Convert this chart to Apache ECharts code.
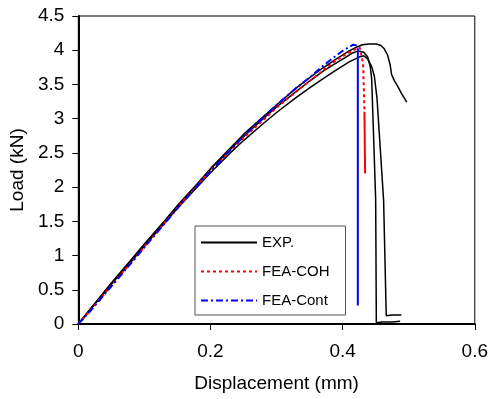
<!DOCTYPE html>
<html><head><meta charset="utf-8">
<script src="https://cdn.jsdelivr.net/npm/echarts@6/dist/echarts.min.js"></script>
<style>html,body{margin:0;padding:0;background:#fff}#c{width:491px;height:399px}</style>
</head><body><div id="c"></div>
<script>
// Tick labels
const xTicks = [0, 0.2, 0.4, 0.6];
const yTicks = [0, 0.5, 1, 1.5, 2, 2.5, 3, 3.5, 4, 4.5];
const seriesNames = ['EXP.', 'FEA-COH', 'FEA-Cont'];

// EXP. specimen 1 (highest, long tail)
const expAx = [0, 0.01, 0.03, 0.05, 0.08, 0.1, 0.13, 0.15, 0.18, 0.2, 0.23, 0.25, 0.28, 0.3, 0.33, 0.35, 0.37, 0.39, 0.41, 0.42, 0.43, 0.44, 0.451, 0.458, 0.463, 0.468, 0.472, 0.474, 0.478, 0.483, 0.489, 0.497];
const expAy = [0, 0.12, 0.36, 0.6, 0.94, 1.17, 1.5, 1.73, 2.05, 2.27, 2.57, 2.77, 3.03, 3.2, 3.45, 3.6, 3.74, 3.87, 3.99, 4.04, 4.08, 4.09, 4.09, 4.07, 4.02, 3.93, 3.78, 3.65, 3.56, 3.48, 3.37, 3.24];
// EXP. specimen 2
const expBx = [0, 0.02, 0.05, 0.08, 0.1, 0.13, 0.15, 0.18, 0.2, 0.23, 0.25, 0.28, 0.3, 0.33, 0.35, 0.37, 0.39, 0.405, 0.415, 0.424, 0.432, 0.438, 0.442, 0.444, 0.447, 0.45, 0.451, 0.46, 0.475, 0.487];
const expBy = [0, 0.24, 0.59, 0.93, 1.16, 1.49, 1.72, 2.04, 2.26, 2.55, 2.74, 3.0, 3.17, 3.4, 3.55, 3.69, 3.81, 3.9, 3.96, 3.99, 3.97, 3.9, 3.75, 3.57, 2.7, 1.81, 0.02, 0.03, 0.03, 0.04];
// EXP. specimen 3 (lowest)
const expCx = [0, 0.02, 0.05, 0.08, 0.1, 0.13, 0.15, 0.18, 0.2, 0.23, 0.25, 0.28, 0.3, 0.33, 0.35, 0.37, 0.39, 0.41, 0.425, 0.432, 0.438, 0.444, 0.448, 0.452, 0.462, 0.466, 0.475, 0.489];
const expCy = [0, 0.23, 0.58, 0.91, 1.14, 1.47, 1.69, 2.0, 2.21, 2.5, 2.68, 2.93, 3.09, 3.31, 3.45, 3.58, 3.71, 3.83, 3.9, 3.92, 3.87, 3.76, 3.62, 3.3, 1.81, 0.12, 0.13, 0.13];
// FEA-COH
const cohX = [0, 0.02, 0.05, 0.08, 0.1, 0.13, 0.15, 0.18, 0.2, 0.23, 0.25, 0.28, 0.3, 0.33, 0.35, 0.37, 0.39, 0.405, 0.418, 0.426, 0.429, 0.431, 0.433];
const cohY = [0, 0.22, 0.56, 0.9, 1.13, 1.47, 1.7, 2.03, 2.24, 2.53, 2.72, 2.98, 3.16, 3.4, 3.55, 3.7, 3.85, 3.94, 4.01, 4.04, 4.02, 3.8, 3.1];
const cohDropX = [0.433, 0.434];
const cohDropY = [3.1, 2.2];
// FEA-Cont
const contX = [0, 0.02, 0.05, 0.08, 0.1, 0.13, 0.15, 0.18, 0.2, 0.23, 0.25, 0.28, 0.3, 0.33, 0.35, 0.37, 0.39, 0.40, 0.41, 0.416, 0.421, 0.423];
const contY = [0, 0.21, 0.55, 0.89, 1.12, 1.46, 1.69, 2.02, 2.23, 2.54, 2.74, 3.02, 3.2, 3.45, 3.6, 3.77, 3.92, 3.99, 4.05, 4.08, 4.07, 4.03];
const contDropX = [0.423, 0.423];
const contDropY = [4.03, 0.27];

const zip = (a, b) => a.map((v, i) => [v, b[i]]);
const FONT = 'Liberation Sans, Arial, sans-serif';

function line(name, xs, ys, color, width, type) {
  return { name, type: 'line', data: zip(xs, ys), showSymbol: false, symbol: 'none',
    lineStyle: { color, width, type }, itemStyle: { color }, animation: false, z: 3 };
}

const chart = echarts.init(document.getElementById('c'), null, { renderer: 'canvas' });
chart.setOption({
  backgroundColor: '#fff',
  animation: false,
  grid: { left: 77, top: 16, right: 14, bottom: 75, show: true, borderColor: '#000', borderWidth: 1 },
  legend: {
    data: seriesNames,
    orient: 'vertical', left: 195, top: 226,
    padding: [9, 16, 7, 5],
    itemWidth: 56, itemHeight: 14, itemGap: 14,
    itemStyle: { opacity: 0 },
    backgroundColor: '#fff', borderColor: '#555', borderWidth: 1,
    textStyle: { fontFamily: FONT, fontSize: 15, color: '#000' }
  },
  xAxis: {
    type: 'value', min: xTicks[0], max: xTicks[xTicks.length - 1], interval: 0.2,
    name: 'Displacement (mm)', nameLocation: 'middle', nameGap: 50,
    nameTextStyle: { fontFamily: FONT, fontSize: 19, color: '#000' },
    axisLine: { show: true, onZero: false, lineStyle: { color: '#000', width: 2 } },
    axisTick: { show: true, inside: false, length: 6, lineStyle: { color: '#000', width: 1 } },
    axisLabel: { fontFamily: FONT, fontSize: 19, color: '#000', margin: 18 },
    splitLine: { show: false }
  },
  yAxis: {
    type: 'value', min: yTicks[0], max: yTicks[yTicks.length - 1], interval: 0.5,
    name: 'Load (kN)', nameLocation: 'middle', nameGap: 51,
    nameTextStyle: { fontFamily: FONT, fontSize: 19, color: '#000' },
    axisLine: { show: true, onZero: false, lineStyle: { color: '#000', width: 2 } },
    axisTick: { show: true, inside: false, length: 6, lineStyle: { color: '#000', width: 1 } },
    axisLabel: { fontFamily: FONT, fontSize: 19, color: '#000', margin: 14 },
    splitLine: { show: false }
  },
  series: [
    line('EXP.', expAx, expAy, '#000', 1.5, 'solid'),
    line('EXP. 2', expBx, expBy, '#000', 1.5, 'solid'),
    line('EXP. 3', expCx, expCy, '#000', 1.5, 'solid'),
    line('FEA-COH', cohX, cohY, '#ff0000', 2, [3, 3]),
    line('FEA-COH drop', cohDropX, cohDropY, '#ff0000', 2, 'solid'),
    line('FEA-Cont', contX, contY, '#0000ff', 2, [7, 3, 2, 3]),
    line('FEA-Cont drop', contDropX, contDropY, '#0000ff', 2, 'solid')
  ]
});
</script></body></html>
